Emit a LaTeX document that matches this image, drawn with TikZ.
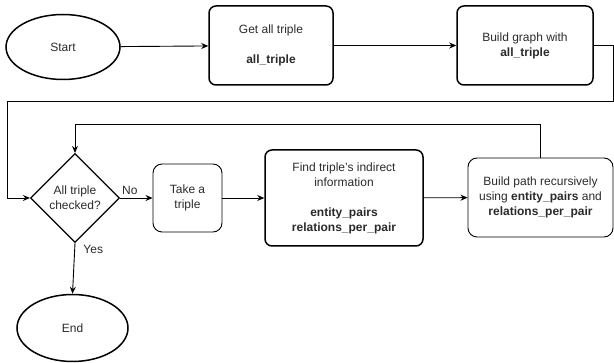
\documentclass[tikz,border=0pt]{standalone}
\usepackage{fontspec}
\setmainfont{Liberation Sans}
\usetikzlibrary{shapes.geometric,arrows.meta}
\definecolor{txt}{HTML}{2a2a2a}
\tikzset{
  base/.style={draw=black, text=txt, align=center, inner sep=2pt,
    font=\fontsize{12}{15}\selectfont},
  terminal/.style={base, ellipse, line width=1.5pt, minimum width=#1},
  terminal/.default=112pt,
  boldbox/.style={base, rectangle, rounded corners=7pt, line width=1.5pt},
  thinbox/.style={base, rectangle, rounded corners=9pt, line width=0.9pt},
  decision/.style={base, diamond, line width=1.1pt, inner sep=0pt},
  flow/.style={line width=0.9pt, -{Stealth[length=7pt,width=6pt]}},
  lbl/.style={text=txt, font=\fontsize{12}{15}\selectfont}
}
\begin{document}
\begin{tikzpicture}[x=1pt,y=-1pt]
\useasboundingbox (0,0) rectangle (614,363);

% top row
\node[terminal=114pt, minimum height=65pt] (start) at (63,47) {Start};
\node[boldbox, minimum width=124pt, minimum height=79pt] (get) at (271,45.5)
  {Get all triple\\[15pt]\textbf{all\_triple}};
\node[boldbox, minimum width=136pt, minimum height=79pt] (graph) at (525,45.5)
  {Build graph with\\\textbf{all\_triple}};

% main loop
\node[decision, minimum width=89pt, minimum height=89pt] (check) at (75,198)
  {All triple\\checked?};
\node[thinbox, minimum width=69pt, minimum height=68pt] (take) at (187.5,198)
  {Take a\\triple};
\node[boldbox, minimum width=158pt, minimum height=96pt] (find) at (344,198)
  {Find triple's indirect\\information\\[15pt]\textbf{entity\_pairs}\\\textbf{relations\_per\_pair}};
\node[thinbox, minimum width=145pt, minimum height=79pt] (path) at (540.5,197.5)
  {Build path recursively\\using \textbf{entity\_pairs} and\\\textbf{relations\_per\_pair}};
\node[terminal=111pt, minimum height=67pt] (end) at (72.5,328) {End};

% routing points
\coordinate (r1) at (613,45.5);
\coordinate (r2) at (613,101);
\coordinate (r3) at (7,101);
\coordinate (r4) at (7,198);
\coordinate (l1) at (540.5,124);
\coordinate (l2) at (75,124);

% connectors
\draw[flow] (start) -- (get);
\draw[flow] (get) -- (graph);
\draw[flow] (graph.east) -- (r1) -- (r2) -- (r3) -- (r4) -- (check.west);
\draw[flow] (check.east) -- node[lbl, above, pos=0.3] {No} (take.west);
\draw[flow] (take) -- (find);
\draw[flow] (find) -- (path);
\draw[flow] (path.north) -- (l1) -- (l2) -- (check.north);
\draw[flow] (check.south) -- node[lbl, right, pos=0.12, xshift=5pt] {Yes} (end.north);
\end{tikzpicture}
\end{document}
